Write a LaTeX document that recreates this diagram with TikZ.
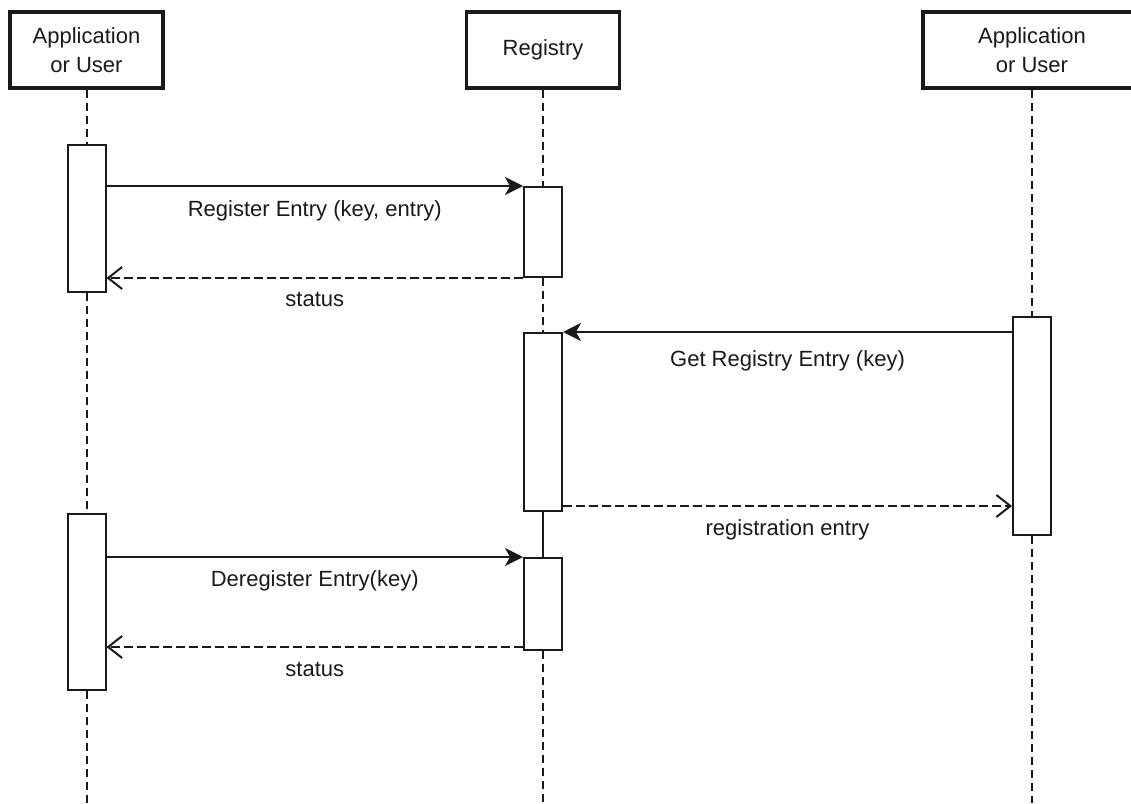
\documentclass[tikz,border=0pt]{standalone}
\usepackage{fontspec}
\setmainfont{Liberation Sans}
\usetikzlibrary{arrows.meta}
\definecolor{ink}{HTML}{1A1A1A}
\tikzset{
  header/.style={draw=ink, line width=3.2pt, fill=white, minimum width=153pt, minimum height=76pt,
    align=center, inner sep=0pt, text=ink, font=\fontsize{22}{29}\selectfont},
  actbox/.style={draw=ink, line width=2pt, fill=white, minimum width=38pt, inner sep=0pt},
  lifeline/.style={draw=ink, line width=2pt, dash pattern=on 8pt off 5pt},
  focusline/.style={draw=ink, line width=2pt},
  callmsg/.style={draw=ink, line width=2pt, -{Stealth[length=18pt,width=18pt,inset=5pt]}},
  retmsg/.style={draw=ink, line width=2pt, dash pattern=on 9pt off 4pt,
    -{Straight Barb[length=14pt,width=22pt,line width=2pt]}},
  msglabel/.style={font=\fontsize{22}{26}\selectfont, text=ink, anchor=base, inner sep=0pt}
}
\begin{document}
\begin{tikzpicture}[x=1pt,y=-1pt]
\useasboundingbox (0,0) rectangle (1131,803);
\clip (0,0) rectangle (1131,803);
\fill[white] (0,0) rectangle (1131,803);
% headers
\node[header] (H1) at (86.5,50) {Application\\or User};
\node[header] (H2) at (543,50) {Registry};
\node[header, minimum width=218pt] (H3) at (1032,50) {Application\\or User};
% activation boxes
\node[actbox, minimum height=147pt] (L1) at (86.5,218.5) {};
\node[actbox, minimum height=90pt] (R1) at (543,232) {};
\node[actbox, minimum height=178pt] (R2) at (543,422) {};
\node[actbox, minimum height=218pt] (RA) at (1032,426) {};
\node[actbox, minimum height=176pt] (L2) at (86.5,602) {};
\node[actbox, minimum height=92pt] (R3) at (543,604) {};
\coordinate (E1) at (86.5,803);
\coordinate (E2) at (543,803);
\coordinate (E3) at (1032,803);
\coordinate (R2ret) at ([yshift=6pt]R2.south east);
\coordinate (R3ret) at ([yshift=4pt]R3.south west);
% lifelines
\draw[lifeline] (H1.south) -- (L1.north);
\draw[lifeline] (L1.south) -- (L2.north);
\draw[lifeline] (L2.south) -- (E1);
\draw[lifeline] (H2.south) -- (R1.north);
\draw[lifeline] (R1.south) -- (R2.north);
\draw[focusline] (R2.south) -- (R3.north);
\draw[lifeline] (R3.south) -- (E2);
\draw[lifeline] (H3.south) -- (RA.north);
\draw[lifeline] (RA.south) -- (E3);
% messages
\draw[callmsg] (L1.east |- R1.north west) -- (R1.north west)
  node[msglabel, midway, yshift=-30pt] {Register Entry (key, entry)};
\draw[retmsg] (R1.south west) -- (L1.east |- R1.south west)
  node[msglabel, midway, yshift=-28pt] {status};
\draw[callmsg] (RA.west |- R2.north east) -- (R2.north east)
  node[msglabel, midway, yshift=-34pt] {Get Registry Entry (key)};
\draw[retmsg] (R2ret) -- (RA.west |- R2ret)
  node[msglabel, midway, yshift=-29pt] {registration entry};
\draw[callmsg] (L2.east |- R3.north west) -- (R3.north west)
  node[msglabel, midway, yshift=-29pt] {Deregister Entry(key)};
\draw[retmsg] (R3ret) -- (L2.east |- R3ret)
  node[msglabel, midway, yshift=-29pt] {status};
\end{tikzpicture}
\end{document}
